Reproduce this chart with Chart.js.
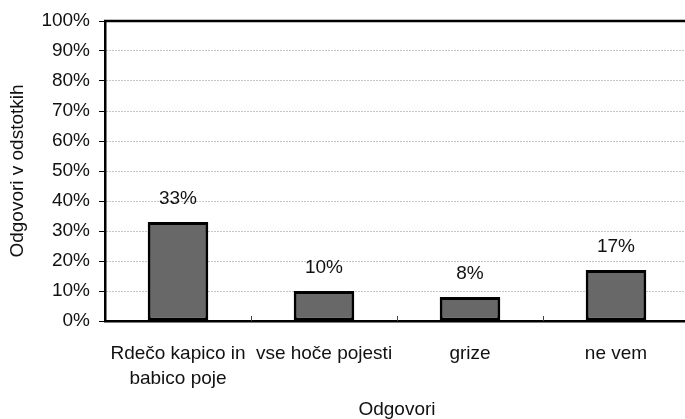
<!DOCTYPE html>
<html>
<head>
<meta charset="utf-8">
<script src="https://cdn.jsdelivr.net/npm/chart.js@4"></script>
<style>
  html, body { margin: 0; padding: 0; background: #fff; overflow: hidden; }
  #wrap { width: 685px; height: 419px; overflow: hidden; position: relative; }
  canvas { display: block; }
</style>
</head>
<body>
<div id="wrap"><canvas id="c" width="690" height="419" style="width:690px;height:419px"></canvas></div>
<script>
const categories = [["Rdečo kapico in", "babico poje"], "vse hoče pojesti", "grize", "ne vem"];
const values = [33, 10, 8, 17];
const valueLabels = ["33%", "10%", "8%", "17%"];
const yTicks = [0, 10, 20, 30, 40, 50, 60, 70, 80, 90, 100];
const xTitle = "Odgovori";
const yTitle = "Odgovori v odstotkih";

const FONT = "'Liberation Sans', Arial, Helvetica, sans-serif";
const FS = 19;

const framePlugin = {
  id: 'frame',
  afterDraw(chart) {
    const ctx = chart.ctx;
    const a = chart.chartArea;
    const xs = chart.scales.x;
    ctx.save();
    // top frame line
    ctx.strokeStyle = '#000';
    ctx.lineWidth = 2.5;
    ctx.beginPath();
    ctx.moveTo(a.left - 1, a.top);
    ctx.lineTo(a.right + 2, a.top);
    ctx.stroke();
    // inner tick marks between categories
    ctx.lineWidth = 1;
    ctx.strokeStyle = '#444';
    for (let i = 1; i <= categories.length; i++) {
      const x = Math.round((xs.getPixelForValue(i - 1) + xs.getPixelForValue(i)) / 2) + 0.5;
      ctx.beginPath();
      ctx.moveTo(x, a.bottom);
      ctx.lineTo(x, a.bottom - 5);
      ctx.stroke();
    }
    // value labels
    const meta = chart.getDatasetMeta(0);
    ctx.fillStyle = '#111';
    ctx.font = FS + 'px ' + FONT;
    ctx.textAlign = 'center';
    ctx.textBaseline = 'middle';
    meta.data.forEach((bar, i) => {
      ctx.fillText(valueLabels[i], bar.x, bar.y - 23);
    });
    ctx.restore();
  }
};

new Chart(document.getElementById('c'), {
  type: 'bar',
  data: {
    labels: categories,
    datasets: [{
      data: values,
      backgroundColor: '#686868',
      borderColor: '#000',
      borderWidth: 3,
      borderSkipped: false,
      categoryPercentage: 1,
      barPercentage: 0.415
    }]
  },
  options: {
    responsive: false,
    devicePixelRatio: 1,
    animation: false,
    layout: { padding: { top: 21, right: 1, left: 0, bottom: 0 } },
    plugins: { legend: { display: false }, tooltip: { enabled: false } },
    scales: {
      x: {
        offset: true,
        grid: { display: false, drawTicks: false },
        border: { display: true, color: '#000', width: 2.5 },
        ticks: {
          color: '#111',
          font: { family: FONT, size: FS, lineHeight: 25 / FS },
          padding: 20,
          maxRotation: 0,
          autoSkip: false
        },
        title: {
          display: true,
          text: xTitle,
          color: '#111',
          font: { family: FONT, size: FS, lineHeight: 1 },
          padding: { top: 0, bottom: 0 }
        },
        afterFit(scale) { scale.height = 98; }
      },
      y: {
        min: 0,
        max: 100,
        afterBuildTicks(scale) { scale.ticks = yTicks.map(v => ({ value: v })); },
        ticks: {
          color: '#111',
          font: { family: FONT, size: FS },
          padding: 9,
          callback: (v) => v + '%'
        },
        grid: {
          color: (ctx) => (ctx.tick && (ctx.tick.value === 0 || ctx.tick.value === 100)) ? 'rgba(0,0,0,0)' : '#8c8c8c',
          lineWidth: 1,
          tickLength: 6,
          tickColor: '#000',
          tickWidth: 1
        },
        border: { display: true, color: '#000', width: 2.5, dash: [1, 2] },
        title: {
          display: true,
          text: yTitle,
          color: '#111',
          font: { family: FONT, size: FS, lineHeight: 1 },
          padding: { top: 8.5, bottom: 0 }
        },
        afterFit(scale) { scale.width = 105; }
      }
    }
  },
  plugins: [framePlugin]
});
</script>
</body>
</html>
